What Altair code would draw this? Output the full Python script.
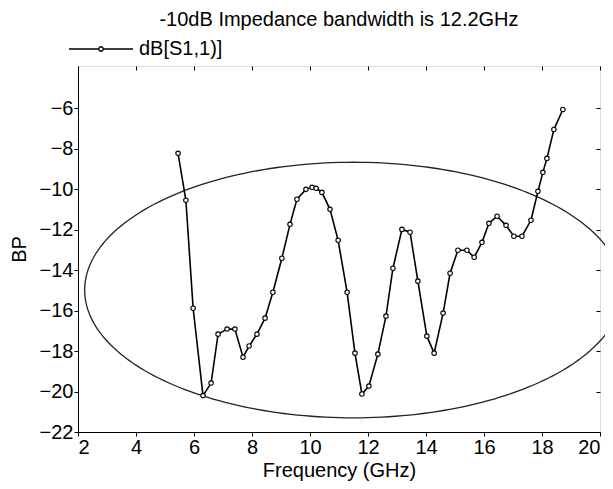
import altair as alt
import pandas as pd
import numpy as np

# Measured S11 curve (GHz, dB)
freq = [5.45, 5.72, 5.97, 6.31, 6.59, 6.83, 7.14, 7.41, 7.69, 7.90, 8.17, 8.45, 8.72,
        9.03, 9.31, 9.55, 9.86, 10.07, 10.21, 10.41, 10.69, 10.97, 11.28, 11.55, 11.79,
        12.03, 12.34, 12.62, 12.86, 13.17, 13.45, 13.72, 14.03, 14.28, 14.59, 14.83,
        15.10, 15.41, 15.66, 15.93, 16.17, 16.45, 16.76, 17.03, 17.31, 17.62, 17.86,
        18.03, 18.17, 18.41, 18.72]
s11 = [-8.22, -10.54, -15.88, -20.20, -19.58, -17.16, -16.91, -16.91, -18.30, -17.75,
       -17.16, -16.37, -15.09, -13.41, -11.73, -10.49, -10.00, -9.90, -9.95, -10.15,
       -10.99, -12.52, -15.09, -18.10, -20.12, -19.73, -18.15, -16.27, -13.90, -11.98,
       -12.12, -14.54, -17.26, -18.10, -16.12, -14.15, -13.01, -13.01, -13.36, -12.62,
       -11.68, -11.33, -11.78, -12.32, -12.32, -11.53, -10.10, -9.16, -8.47, -7.04, -6.05]

series_name = "dB[S1,1)]"
x_ticks = [2, 4, 6, 8, 10, 12, 14, 16, 18, 20]
y_ticks = [-22, -20, -18, -16, -14, -12, -10, -8, -6]

# Annotation ellipse (center and semi-axes)
ell_cx, ell_cy = 11.5, -14.98
ell_a, ell_b = 9.27, 6.32

df = pd.DataFrame({"f": freq, "db": s11, "series": series_name})
t = np.linspace(0, 2 * np.pi, 241)
ell = pd.DataFrame({"f": ell_cx + ell_a * np.cos(t), "db": ell_cy + ell_b * np.sin(t),
                    "o": np.arange(len(t))})

FONT = "Liberation Sans"
FS = 20
W, H = 522, 366
xs = alt.Scale(domain=[2, 20], nice=False, zero=False)
ys = alt.Scale(domain=[-22, -3.9], nice=False, zero=False)

xaxis = alt.Axis(values=x_ticks, title="Frequency (GHz)", grid=False, tickSize=4,
                 labelFontSize=FS, titleFontSize=FS, titleFontWeight="normal",
                 labelFont=FONT, titleFont=FONT, labelColor="black", titleColor="black",
                 domainColor="black", tickColor="black", labelPadding=1, titlePadding=3)
yaxis = alt.Axis(values=y_ticks, title="BP", grid=False, tickSize=4,
                 labelFontSize=FS, titleFontSize=FS, titleFontWeight="normal",
                 labelFont=FONT, titleFont=FONT, labelColor="black", titleColor="black",
                 domainColor="black", tickColor="black", labelPadding=1, titlePadding=10)

# mirrored inward ticks on the top and right borders
x_mirror = alt.Axis(values=x_ticks, orient="bottom", offset=-H, labels=False, domain=False,
                    title=None, grid=False, tickSize=4, tickColor="black")
y_mirror = alt.Axis(values=y_ticks, orient="left", offset=-W, labels=False, domain=False,
                    title=None, grid=False, tickSize=4, tickColor="black")

legend_symbol = ("M-1,0H-0.07M0.07,0H1M-0.07,0A0.07,0.07 0 1,0 0.07,0"
                 "A0.07,0.07 0 1,0 -0.07,0")

ellipse = alt.Chart(ell).mark_line(strokeWidth=1.3, color="#222222", clip=False).encode(
    x=alt.X("f:Q", scale=xs, axis=xaxis),
    y=alt.Y("db:Q", scale=ys, axis=yaxis),
    order="o:Q",
)

line = alt.Chart(df).mark_line(strokeWidth=1.6, color="black").encode(
    x=alt.X("f:Q", scale=xs, axis=None),
    y=alt.Y("db:Q", scale=ys, axis=None),
    color=alt.Color("series:N", scale=alt.Scale(domain=[series_name], range=["black"]),
                    legend=alt.Legend(title=None, orient="none", legendX=-10, legendY=-50,
                                      symbolType=legend_symbol, symbolSize=4096,
                                      symbolStrokeWidth=1.3, symbolStrokeColor="black",
                                      symbolFillColor="white", labelFontSize=FS,
                                      labelFont=FONT, labelColor="black", padding=0,
                                      labelOffset=5)),
)

pts = alt.Chart(df).mark_point(shape="circle", size=20, filled=True, fill="white",
                               stroke="black", strokeWidth=1.1, opacity=1).encode(
    x=alt.X("f:Q", scale=xs, axis=x_mirror),
    y=alt.Y("db:Q", scale=ys, axis=y_mirror),
)

chart = alt.layer(ellipse, line, pts).resolve_axis(
    x="independent", y="independent"
).properties(
    width=W, height=H,
    title=alt.Title("-10dB Impedance bandwidth is 12.2GHz", fontSize=FS, font=FONT,
                    fontWeight="normal", color="black", anchor="middle", frame="group",
                    offset=0, dy=14),
    autosize=alt.AutoSizeParams(type="none"),
    padding={"left": 70, "top": 58, "right": 5, "bottom": 49},
).configure_view(stroke="black", strokeWidth=1.2).configure(background="white")

chart.save("out.html", embed_options={"renderer": "svg", "actions": False})
